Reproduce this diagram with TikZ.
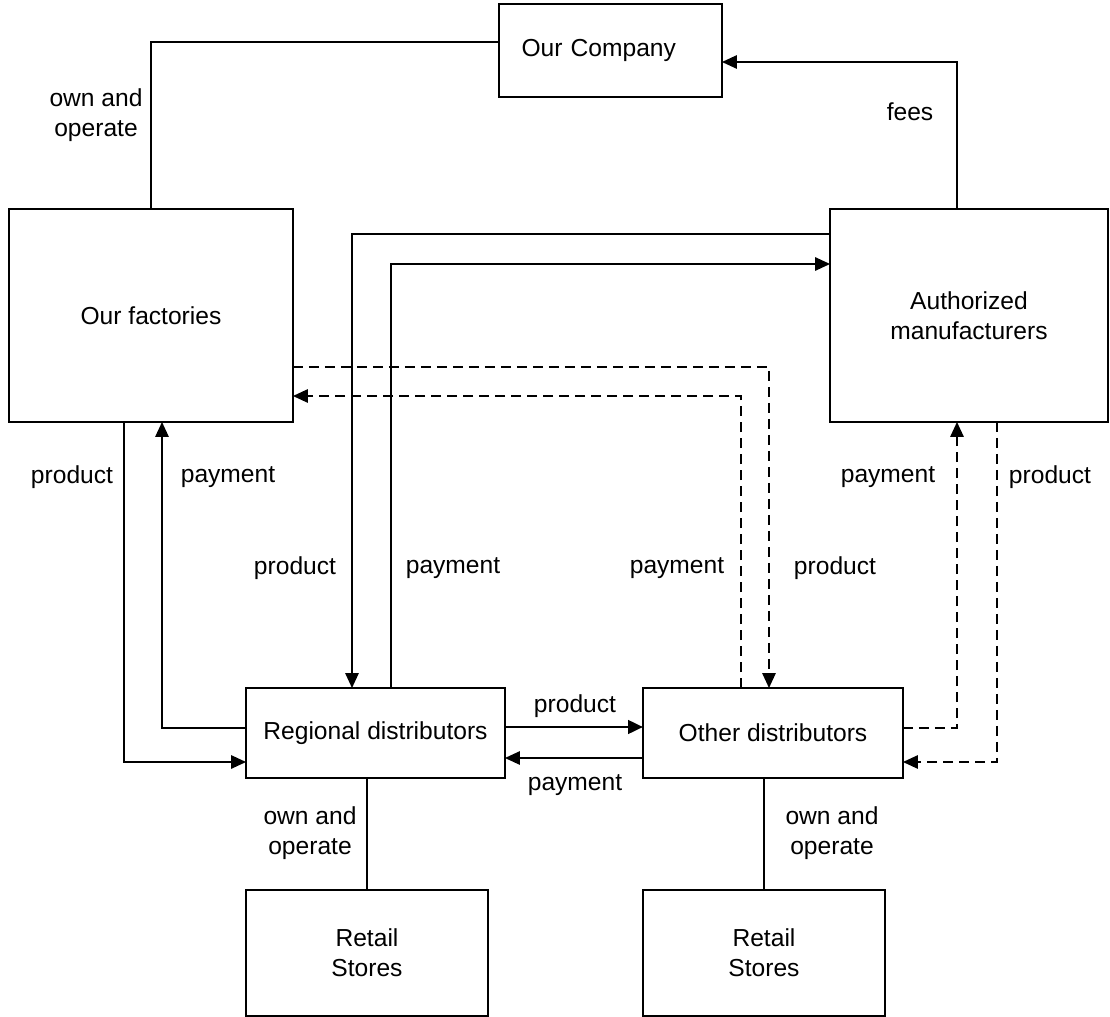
\documentclass[tikz,border=0pt]{standalone}
\usepackage{fontspec}
\setmainfont{Liberation Sans}
\usetikzlibrary{arrows.meta}
\tikzstyle{box}=[rectangle,draw,line width=0.85pt,fill=none,inner sep=0pt,outer sep=0pt,align=center,font=\fontsize{14}{17}\selectfont]
\tikzstyle{flow}=[draw,line width=0.85pt,-{Triangle[length=0.3cm,width=0.27cm]}]
\tikzstyle{tie}=[draw,line width=0.85pt]
\tikzstyle{hint}=[dash pattern=on 0.2cm off 0.12cm]
\tikzstyle{lbl}=[align=center,inner sep=0pt,font=\fontsize{14}{17}\selectfont]

\begin{document}
\begin{tikzpicture}[x=0.02cm,y=-0.02cm]
                \useasboundingbox (0,0) rectangle (1110,1017);
                \node[box,minimum width=4.46cm,minimum height=1.86cm,text width=4.16cm,align=left] (comp) at (610.5,50.5) {\hspace*{0.3cm}Our Company};
                \node[box,minimum width=5.68cm,minimum height=4.26cm] (fact) at (151,315.5) {Our factories};
                \node[box,minimum width=5.56cm,minimum height=4.26cm] (auth) at (969,315.5) {Authorized\\manufacturers};
                \node[box,minimum width=5.18cm,minimum height=1.8cm] (reg) at (375.5,733) {Regional distributors};
                \node[box,minimum width=5.2cm,minimum height=1.8cm] (oth) at (773,733) {Other distributors};
                \node[box,minimum width=4.84cm,minimum height=2.52cm] (retA) at (367,953) {Retail\\Stores};
                \node[box,minimum width=4.84cm,minimum height=2.52cm] (retB) at (764,953) {Retail\\Stores};

                % ownership and fees
                \path[tie] (comp.west |- 0,42) -| (fact.north);
                \path[flow] (auth.north -| 957,0) |- (comp.east |- 0,62);
                \path[tie] (retA.north) -- (retA.north |- reg.south);
                \path[tie] (retB.north) -- (retB.north |- oth.south);

                % solid flows
                \path[flow] (auth.west |- 0,234) -| (reg.north -| 352,0);
                \path[flow] (reg.north -| 391,0) |- (auth.west |- 0,264);
                \path[flow] (fact.south -| 124,0) |- (reg.west |- 0,762);
                \path[flow] (reg.west |- 0,728) -| (fact.south -| 162,0);
                \path[flow,line width=1.7pt] (reg.east |- 0,727) -- (oth.west |- 0,727);
                \path[flow] (oth.west |- 0,758) -- (reg.east |- 0,758);

                % dashed flows
                \path[flow,hint] (fact.east |- 0,367) -| (oth.north -| 769,0);
                \path[flow,hint] (oth.north -| 741,0) |- (fact.east |- 0,396);
                \path[flow,hint] (oth.east |- 0,728) -| (auth.south -| 957,0);
                \path[flow,hint] (auth.south -| 997,0) |- (oth.east |- 0,762);

                \node[lbl] (ownA) at (96,115) {own and\\operate};
                \node[lbl] (fees) at (910,112) {fees};
                \node[lbl] (prodA) at (72,477) {product};
                \node[lbl] (payA) at (228,477) {payment};
                \node[lbl] (prodB) at (295,568) {product};
                \node[lbl] (payB) at (453,568) {payment};
                \node[lbl] (payC) at (677,568) {payment};
                \node[lbl] (prodC) at (835,568) {product};
                \node[lbl] (payD) at (888,477) {payment};
                \node[lbl] (prodD) at (1050,477) {product};
                \node[lbl] (prodE) at (575,706) {product};
                \node[lbl] (payE) at (575,785) {payment};
                \node[lbl] (ownB) at (310,833) {own and\\operate};
                \node[lbl] (ownC) at (832,833) {own and\\operate};
            \end{tikzpicture}
\end{document}
